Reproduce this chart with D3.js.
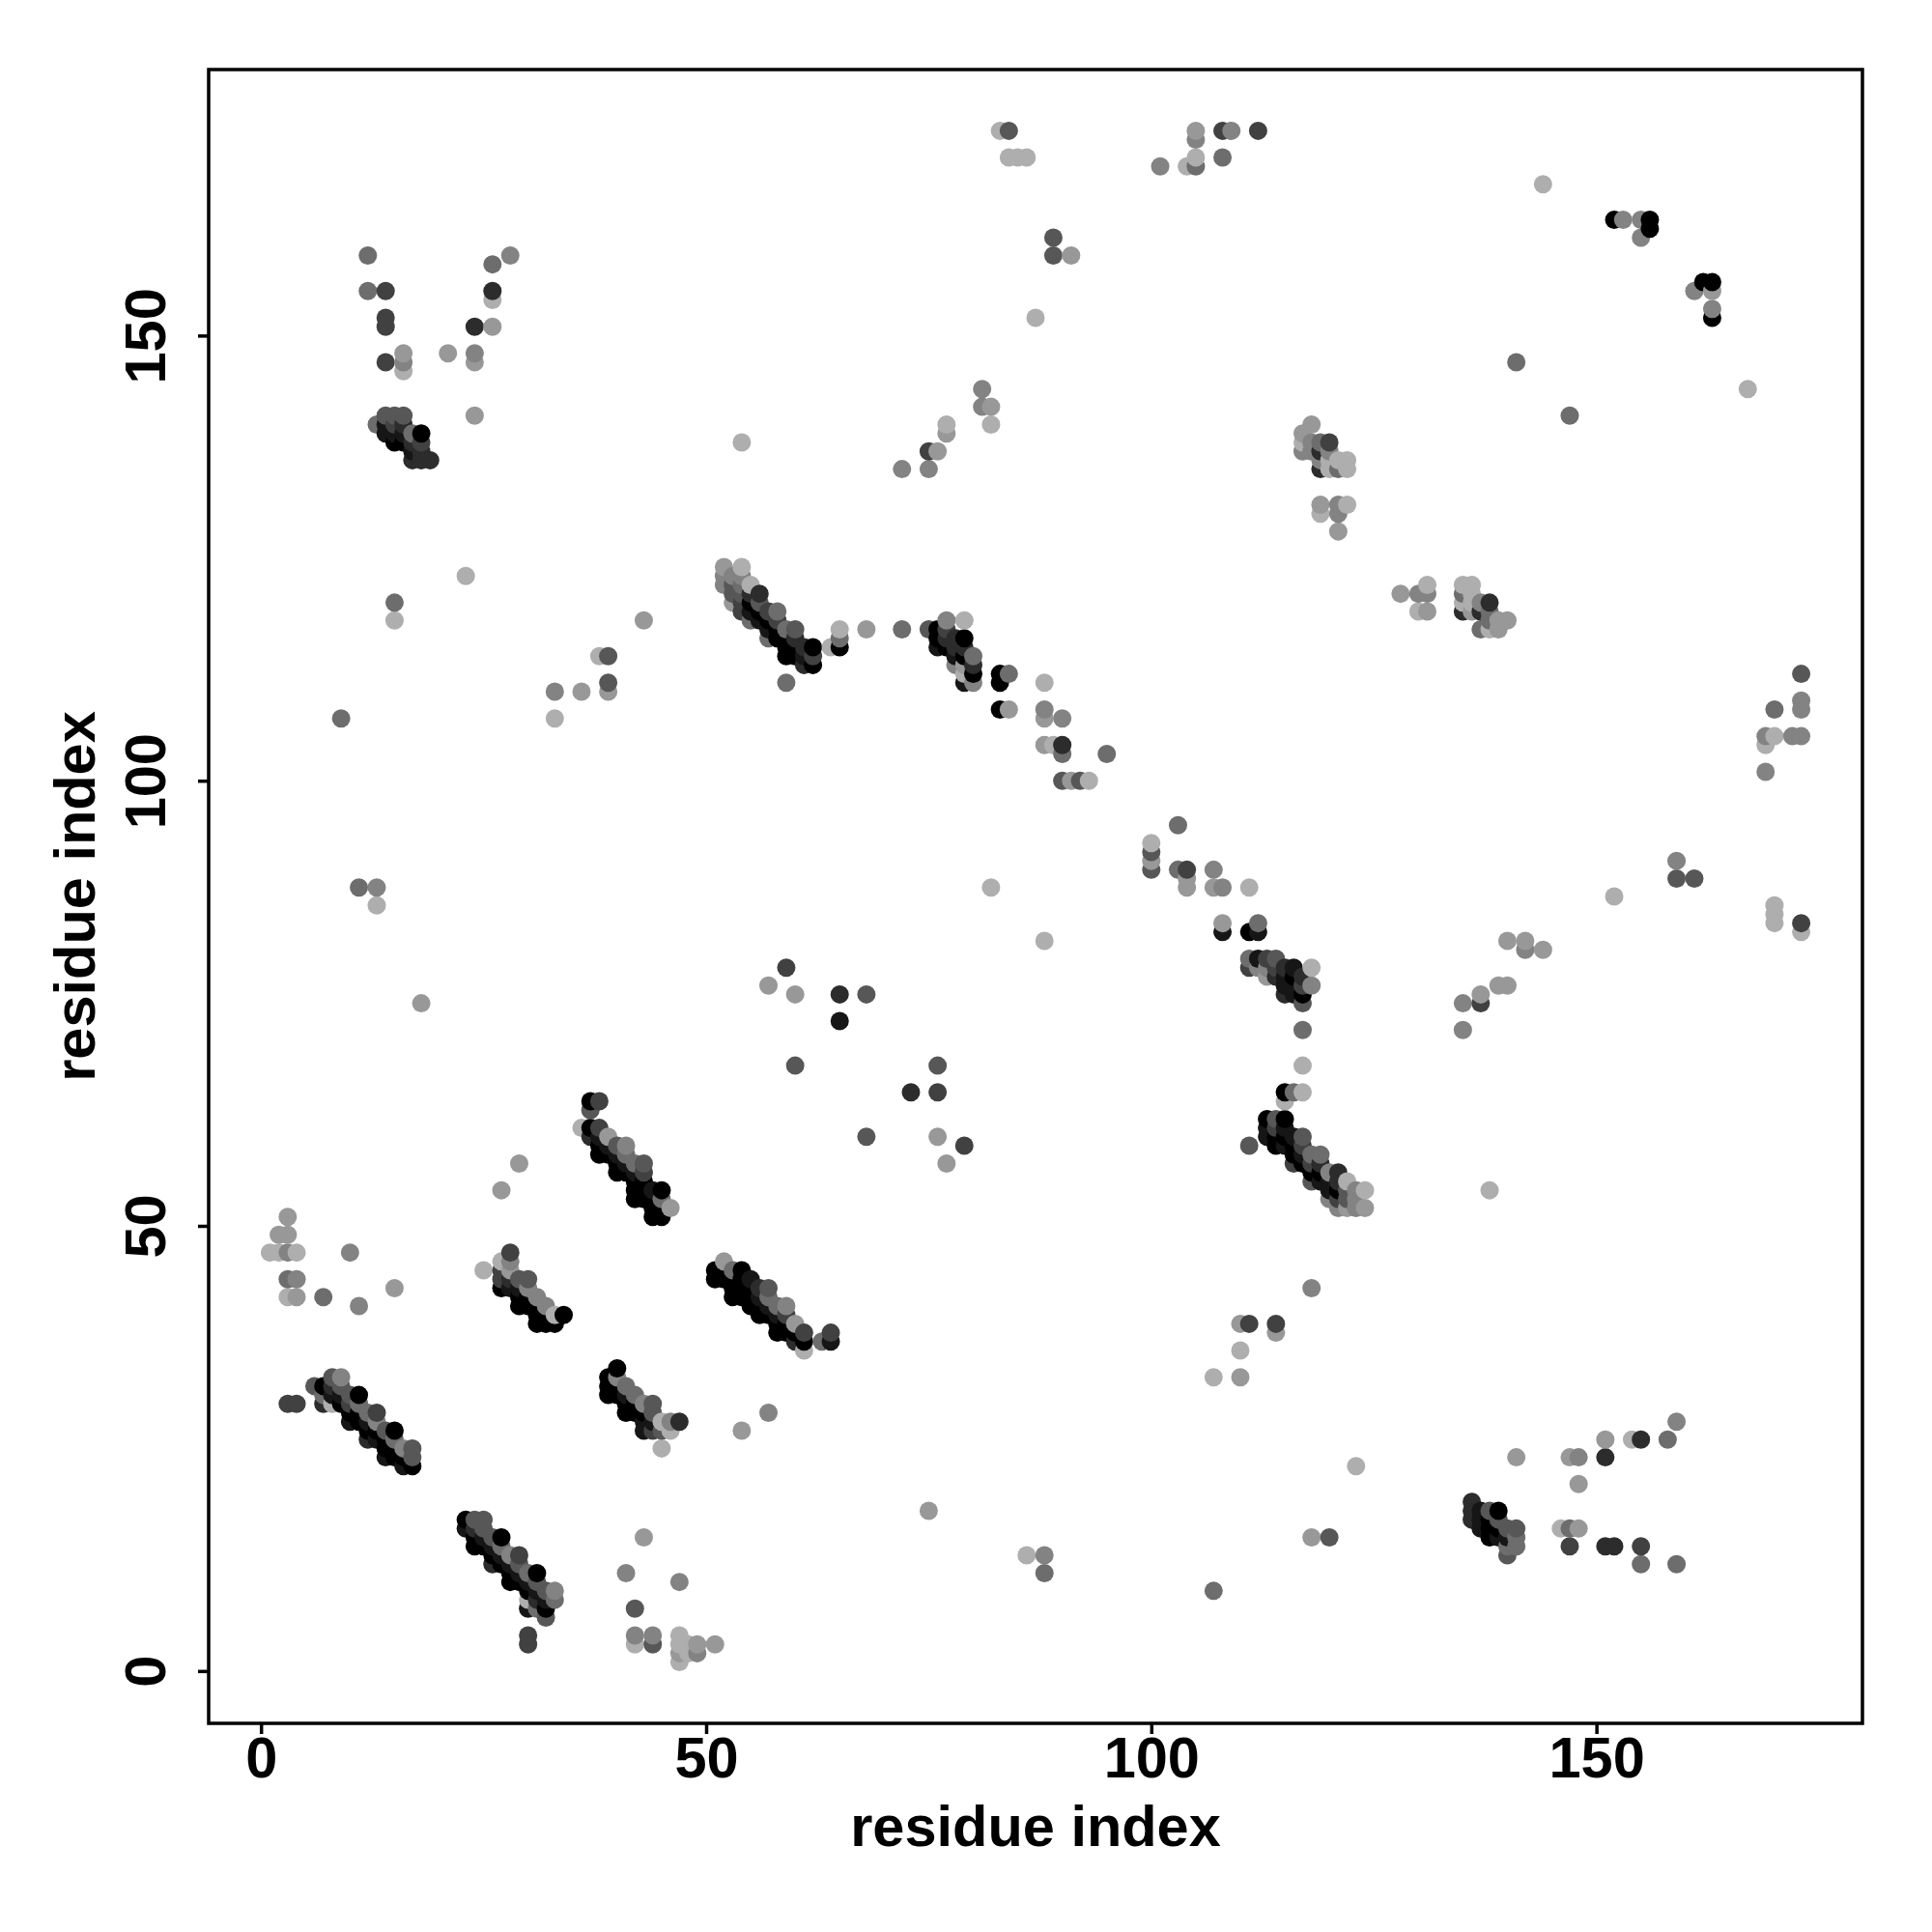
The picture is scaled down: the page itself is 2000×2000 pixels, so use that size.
<!DOCTYPE html>
<html><head><meta charset="utf-8">
<script src="https://cdn.jsdelivr.net/npm/d3@7"></script>
<style>html,body{margin:0;padding:0;background:#fff}svg{display:block}</style>
</head><body><svg id="c" width="2000" height="2000"></svg>
<script>
// each contact: [residue i, residue j, strength level 0 (weak) .. 9 (strong)]
const xTicks=[0,50,100,150], yTicks=[0,50,100,150];
const xTitle="residue index", yTitle="residue index";
const xDomain=[-5.88,179.88], yDomain=[-5.88,179.88];
const cornerLeft=[[3,51,2],[2,49,2],[3,49,2],[1,47,1],[2,47,1],[3,47,3],[4,47,1],[10,47,3],[3,44,4],[4,44,3],[3,42,1],[4,42,2],[7,42,4],[11,41,3],[15,43,2],[27,54,2],[29,57,2],[3,30,6],[4,30,6]];
const bandA=[[6,32,5],[7,30,7],[7,31,4],[7,32,9],[8,30,1],[8,31,8],[8,32,7],[8,33,5],[9,30,9],[9,31,8],[9,32,5],[9,33,3],[10,28,8],[10,29,9],[10,30,6],[10,31,5],[11,28,9],[11,29,9],[11,30,4],[11,31,9],[12,26,7],[12,27,9],[12,28,8],[12,29,4],[13,26,8],[13,27,9],[13,28,3],[13,29,6],[14,24,8],[14,25,9],[14,26,9],[14,27,5],[15,24,9],[15,25,9],[15,26,4],[15,27,9],[16,23,8],[16,24,9],[16,25,3],[17,23,9],[17,24,5],[17,25,5]];
const bandB=[[23,16,8],[23,17,9],[24,14,9],[24,15,9],[24,16,7],[24,17,5],[25,14,9],[25,15,8],[25,16,5],[25,17,5],[26,12,7],[26,13,9],[26,14,8],[26,15,5],[27,12,9],[27,13,8],[27,14,4],[27,15,9],[28,10,9],[28,11,9],[28,12,8],[28,13,3],[29,10,9],[29,11,8],[29,12,5],[29,13,6],[30,3,6],[30,4,6],[30,7,8],[30,8,1],[30,9,9],[30,10,8],[30,11,4],[31,7,4],[31,8,7],[31,9,8],[31,10,5],[31,11,9],[32,6,5],[32,7,9],[32,8,8],[32,9,5],[33,8,4],[33,9,3]];
const bandC=[[25,45,1],[27,43,9],[27,44,6],[27,45,6],[27,46,1],[28,43,8],[28,44,7],[28,45,2],[28,46,3],[28,47,6],[29,41,9],[29,42,9],[29,43,8],[29,44,5],[30,41,9],[30,42,9],[30,43,3],[30,44,5],[31,39,9],[31,40,9],[31,41,9],[31,42,3],[32,39,9],[32,40,9],[32,41,3],[33,39,9],[33,40,1],[34,40,9]];
const bandD=[[36,61,1],[37,60,7],[37,61,9],[37,63,5],[37,64,9],[38,58,9],[38,59,9],[38,60,8],[38,61,6],[38,64,6],[39,58,9],[39,59,8],[39,60,2],[40,56,9],[40,57,9],[40,58,8],[40,59,5],[41,56,9],[41,57,8],[41,58,4],[41,59,3],[42,53,9],[42,54,9],[42,55,9],[42,56,8],[42,57,4],[43,53,9],[43,54,9],[43,55,9],[43,56,6],[43,57,5],[44,51,9],[44,52,9],[44,53,9],[44,54,8],[45,51,9],[45,52,9],[45,53,4],[45,54,9],[46,52,2]];
const bandE=[[39,31,9],[39,32,9],[39,33,9],[40,31,9],[40,32,9],[40,33,3],[40,34,9],[41,29,9],[41,30,9],[41,31,8],[41,32,4],[42,29,9],[42,30,9],[42,31,4],[43,27,8],[43,28,8],[43,29,9],[43,30,3],[44,27,6],[44,28,8],[44,29,5],[44,30,5],[45,25,1],[45,27,5],[45,28,1],[46,27,1],[46,28,3],[47,28,7],[54,27,2],[57,29,3]];
const bandF=[[51,44,9],[51,45,9],[52,44,9],[52,45,9],[52,46,2],[53,42,9],[53,43,9],[53,44,9],[53,45,4],[54,42,9],[54,43,9],[54,44,9],[54,45,9],[55,41,9],[55,42,9],[55,43,9],[55,44,8],[56,40,9],[56,41,9],[56,42,8],[56,43,7],[57,40,9],[57,41,8],[57,42,4],[57,43,5],[58,38,9],[58,39,9],[58,40,8],[58,41,4],[59,38,9],[59,39,9],[59,40,6],[59,41,3],[60,37,7],[60,38,9],[60,39,2],[61,36,1],[61,37,9],[61,38,6],[63,37,4],[64,37,8],[64,38,6]];
const bandG=[[52,122,3],[52,123,3],[52,124,2],[53,120,2],[53,121,5],[53,122,5],[53,123,3],[54,119,6],[54,120,6],[54,121,5],[54,122,4],[54,123,3],[54,124,1],[55,118,4],[55,119,8],[55,120,9],[55,121,7],[55,122,1],[56,118,8],[56,119,9],[56,120,5],[56,121,7],[57,116,4],[57,117,8],[57,118,9],[57,119,6],[58,116,9],[58,117,9],[58,118,6],[58,119,4],[59,111,4],[59,114,9],[59,115,9],[59,116,9],[59,117,4],[60,114,9],[60,115,9],[60,116,7],[60,117,5],[61,113,7],[61,114,8],[61,115,7],[62,113,9],[62,114,6],[62,115,9],[64,115,1],[65,115,9],[65,116,4],[65,117,1],[68,117,2],[72,117,4]];
const bandH=[[75,117,5],[76,115,8],[76,116,9],[76,117,9],[77,115,9],[77,116,7],[77,117,6],[77,118,3],[78,113,3],[78,114,8],[78,115,7],[78,116,7],[79,111,8],[79,112,1],[79,113,2],[79,114,9],[79,115,7],[79,116,9],[79,118,1],[80,111,3],[80,112,9],[80,113,7],[80,114,4],[83,111,9],[83,112,9],[84,112,4],[83,108,9],[84,108,2],[88,111,1],[88,108,3],[88,107,2],[90,107,3],[88,104,2],[89,104,1],[90,103,4],[90,104,7],[95,103,4],[90,100,5],[91,100,2],[92,100,5],[93,100,1],[82,88,1],[88,82,1]];
const midDiag=[[100,90,5],[100,91,2],[100,92,5],[100,93,1],[103,95,4],[103,90,4],[104,88,2],[104,89,2],[104,90,6],[107,90,3],[107,88,2],[108,88,3],[111,88,1],[108,83,8],[108,84,2],[111,83,9],[112,83,8],[112,84,4]];
const clusterJ=[[111,79,6],[111,80,4],[112,79,3],[112,80,8],[113,78,2],[113,79,3],[113,80,6],[114,78,7],[114,79,6],[114,80,5],[115,76,7],[115,77,8],[115,78,8],[115,79,7],[116,76,8],[116,77,8],[116,78,9],[116,79,8],[117,75,5],[117,76,9],[117,77,6],[117,78,7],[118,77,3],[118,79,1],[117,72,4],[117,68,1],[115,65,9],[116,65,4],[117,65,1],[115,64,1]];
const bandI=[[111,59,5],[113,60,8],[113,61,8],[113,62,9],[114,59,9],[114,60,9],[114,61,6],[114,62,5],[115,59,8],[115,60,9],[115,61,8],[115,62,9],[116,57,6],[116,58,9],[116,59,9],[116,60,8],[117,57,9],[117,58,8],[117,59,6],[117,60,5],[118,55,5],[118,56,9],[118,57,6],[118,58,4],[119,55,8],[119,56,9],[119,57,7],[119,58,4],[120,53,3],[120,54,8],[120,55,8],[120,56,3],[121,52,3],[121,53,6],[121,54,9],[121,55,7],[121,56,7],[122,52,2],[122,53,5],[122,54,5],[122,55,1],[123,52,3],[123,53,3],[123,54,3],[124,52,2],[124,54,1],[138,54,1]];
const rightMid=[[135,75,3],[135,72,3],[137,75,6],[137,76,2],[139,77,2],[140,77,2],[140,82,2],[142,81,3],[142,82,2],[144,81,2],[152,87,1],[159,91,3],[159,89,5],[161,89,5],[170,86,1],[170,85,1],[170,84,1],[173,84,6],[173,83,1],[173,112,5],[170,108,4],[173,109,3],[173,108,3],[169,105,3],[169,104,1],[170,105,1],[172,105,3],[173,105,3],[169,101,3]];
const bottomRight=[[141,24,2],[147,24,2],[148,24,3],[151,24,7],[151,26,2],[154,26,1],[155,26,7],[158,26,4],[159,28,3],[148,21,2],[146,16,1],[147,16,4],[148,16,2],[147,14,6],[151,14,7],[152,14,7],[155,14,6],[155,12,4],[159,12,4],[136,17,7],[136,18,7],[136,19,7],[137,16,8],[137,17,8],[137,18,8],[138,15,9],[138,16,9],[138,17,9],[138,18,5],[139,15,8],[139,16,9],[139,17,5],[139,18,9],[140,13,5],[140,14,4],[140,15,8],[140,16,5],[141,14,4],[141,15,4],[141,16,5]];
const bottomMid=[[118,15,2],[120,15,5],[123,23,1],[107,9,4],[75,18,2],[86,13,1],[88,13,3],[88,11,4],[107,33,1],[110,33,2],[110,36,1],[110,39,2],[111,39,6],[114,39,6],[114,38,2],[118,43,3],[43,15,2],[41,11,3],[47,10,3],[42,7,5],[42,4,3],[42,3,1],[44,4,3],[44,3,5],[47,4,1],[47,3,1],[47,2,2],[47,1,1],[48,3,1],[48,2,1],[49,3,2],[49,2,3],[51,3,2]];
const leftMid=[[9,107,4],[11,88,4],[13,88,3],[13,86,1],[18,75,2],[15,120,4],[15,118,1],[23,123,1],[33,110,3],[33,107,1],[36,110,2],[38,114,1],[39,114,5],[39,111,5],[39,110,2],[43,118,2],[54,138,1],[59,79,6],[57,77,2],[60,76,2],[65,76,7],[68,76,5],[65,73,8],[60,68,5],[73,65,7],[76,68,5],[76,65,6],[76,60,2],[77,57,2],[79,59,6],[68,60,5],[72,135,3],[75,137,6],[75,135,3],[76,137,2],[77,139,2],[77,140,1],[81,144,3],[81,142,3],[82,142,2],[82,140,1]];
const topLeft=[[12,159,4],[12,155,4],[14,155,6],[14,152,6],[14,151,6],[14,147,6],[16,146,1],[16,147,3],[16,148,2],[21,148,2],[24,147,2],[24,148,3],[24,141,2],[24,151,7],[26,151,2],[26,154,1],[26,155,7],[26,158,4],[28,159,3],[13,140,4],[14,139,8],[14,140,8],[14,141,5],[15,138,9],[15,139,8],[15,140,6],[15,141,5],[16,138,9],[16,139,8],[16,140,7],[16,141,5],[17,136,7],[17,137,8],[17,138,7],[17,139,4],[18,136,7],[18,137,7],[18,138,6],[18,139,9],[19,136,7]];
const clusterK=[[147,141,4],[141,147,4],[117,137,3],[117,138,1],[117,139,2],[118,137,3],[118,138,3],[118,140,2],[119,135,7],[119,136,3],[119,137,7],[119,138,4],[120,135,1],[120,136,1],[120,137,3],[120,138,6],[121,135,4],[121,136,1],[122,135,1],[122,136,1],[119,130,1],[119,131,2],[121,128,2],[121,130,3],[121,131,3],[122,131,1]];
const clusterL=[[128,121,2],[130,119,1],[130,121,3],[131,119,2],[131,121,3],[131,122,1],[135,119,7],[135,120,1],[135,121,4],[135,122,1],[136,119,2],[136,120,1],[136,121,1],[136,122,1],[137,117,4],[137,119,7],[137,120,3],[138,117,1],[138,118,4],[138,119,4],[138,120,7],[139,117,2],[139,118,2],[140,118,2]];
const topRow=[[83,173,1],[84,173,5],[84,170,1],[85,170,1],[86,170,1],[89,161,5],[89,159,5],[91,159,2],[87,152,1],[101,169,3],[104,169,1],[105,169,4],[105,170,1],[105,172,3],[105,173,2],[108,170,4],[108,173,6],[109,173,3],[112,173,6],[144,167,1],[152,163,9],[153,163,3],[155,161,3],[155,163,3],[156,162,9],[156,163,9],[161,155,3],[162,156,9],[163,152,9],[163,153,3],[163,155,2],[163,156,9],[167,144,1]];

const contacts=[].concat(cornerLeft,bandA,bandB,bandC,bandD,bandE,bandF,bandG,bandH,midDiag,clusterJ,bandI,rightMid,bottomRight,bottomMid,leftMid,topLeft,clusterK,clusterL,topRow)
  .sort((a,b)=>a[0]-b[0]||a[1]-b[1]);

const svg=d3.select("#c");
const L=216,R=1928,T=72,B=1784;
const x=d3.scaleLinear().domain(xDomain).range([L,R]);
const y=d3.scaleLinear().domain(yDomain).range([B,T]);
const shade=d3.scaleLinear().domain([0,9]).range(["#c4c4c4","#000000"]);
const font='"Liberation Sans",Arial,sans-serif';
const fs=59.5;

svg.append("g").selectAll("circle").data(contacts).join("circle")
  .attr("cx",d=>x(d[0])).attr("cy",d=>y(d[1])).attr("r",9.5)
  .attr("fill",d=>shade(d[2]));

svg.append("rect").attr("x",L).attr("y",T).attr("width",R-L).attr("height",B-T)
  .attr("fill","none").attr("stroke","#000").attr("stroke-width",3.5);

const ax=svg.append("g").attr("transform",`translate(0,${B})`)
  .call(d3.axisBottom(x).tickValues(xTicks).tickSize(11).tickFormat(d3.format("d")));
const ay=svg.append("g").attr("transform",`translate(${L},0)`)
  .call(d3.axisLeft(y).tickValues(yTicks).tickSize(11).tickFormat(d3.format("d")));
[ax,ay].forEach(g=>{
  g.select(".domain").remove();
  g.selectAll("line").attr("stroke","#000").attr("stroke-width",3.5);
  g.selectAll("text").attr("font-family",font).attr("font-weight","bold").attr("font-size",fs).attr("fill","#000");
});
ax.selectAll("text").attr("dy",null).attr("y",1840-B);
ay.selectAll("text").attr("dy",null).attr("x",0).attr("y",0).attr("text-anchor","middle")
  .attr("transform",`translate(${171-L},0) rotate(-90)`);

svg.append("text").attr("x",1072).attr("y",1911).attr("text-anchor","middle")
  .attr("font-family",font).attr("font-weight","bold").attr("font-size",fs).attr("fill","#000").text(xTitle);
svg.append("text").attr("transform","translate(98,928) rotate(-90)").attr("text-anchor","middle")
  .attr("font-family",font).attr("font-weight","bold").attr("font-size",fs).attr("fill","#000").text(yTitle);
</script></body></html>
